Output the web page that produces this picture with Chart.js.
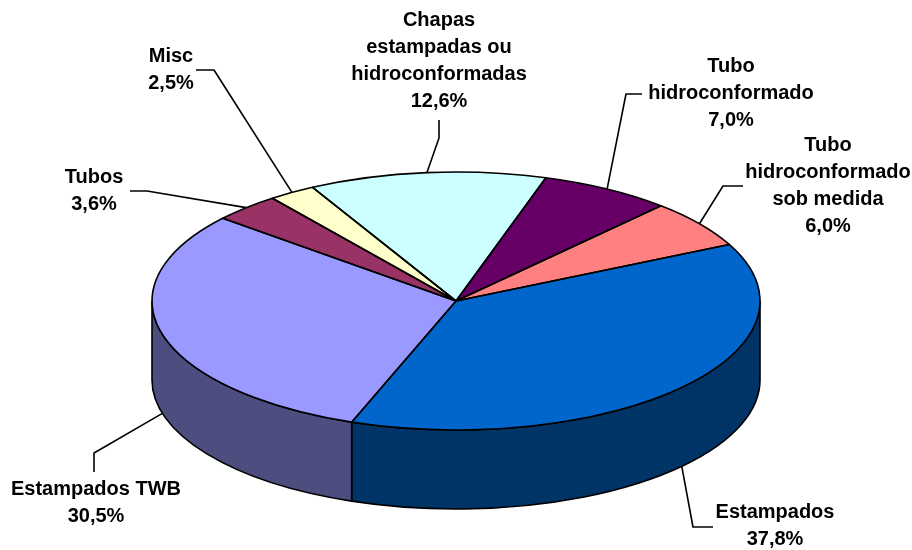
<!DOCTYPE html>
<html>
<head>
<meta charset="utf-8">
<title>Pie 3D</title>
<script src="https://cdn.jsdelivr.net/npm/chart.js@4"></script>
<style>
  html, body { margin: 0; padding: 0; background: #ffffff; }
  #wrap { width: 912px; height: 550px; position: relative; }
</style>
</head>
<body>
<div id="wrap"><canvas id="chart" width="912" height="550"></canvas></div>
<script>
const categories = [
  'Estampados',
  'Estampados TWB',
  'Tubos',
  'Misc',
  'Chapas\nestampadas ou\nhidroconformadas',
  'Tubo\nhidroconformado',
  'Tubo\nhidroconformado\nsob medida'
];
const values = [37.8, 30.5, 3.6, 2.5, 12.6, 7.0, 6.0];
const topColors = ['#0066CC', '#9999FF', '#993366', '#FFFFCC', '#CCFFFF', '#660066', '#FF8080'];
const wallColors = ['#003366', '#4D4D80', '#4D1A33', '#808066', '#668080', '#330033', '#804040'];

// where the pie lands on the page (tilted look)
const pie = { cx: 456, cy: 301, rx: 304, ry: 129, depth: 79 };

// label centre + first line y, and the elbow points of the leader line
const labelLayout = [
  { x: 775, y: 512, leader: [[713, 527], [693, 527]] },
  { x: 96, y: 489, leader: [[94, 472], [94, 453]] },
  { x: 94, y: 177, leader: [[130, 191], [147, 191]] },
  { x: 171, y: 56, leader: [[196, 70], [214, 70]] },
  { x: 439, y: 20, leader: [[439, 120], [439, 138]] },
  { x: 731, y: 66, leader: [[642, 94], [626, 94]] },
  { x: 828, y: 145, leader: [[743, 186], [723, 186]] }
];
const lineGap = 27.2;
const labelFont = 'bold 20px "Liberation Sans", Arial, sans-serif';
const edgeColor = '#000000';

function formatValue(v) {
  return v.toFixed(1).replace('.', ',') + '%';
}

function applyTilt(ctx, arc) {
  ctx.translate(pie.cx, pie.cy);
  ctx.scale(pie.rx / arc.outerRadius, pie.ry / arc.outerRadius);
  ctx.translate(-arc.x, -arc.y);
}

function drawWalls(ctx, arcs) {
  arcs.forEach((arc, i) => {
    const from = Math.max(arc.startAngle, 0);
    const to = Math.min(arc.endAngle, Math.PI);
    if (to <= from) return;
    ctx.beginPath();
    ctx.ellipse(pie.cx, pie.cy, pie.rx, pie.ry, 0, from, to);
    ctx.ellipse(pie.cx, pie.cy + pie.depth, pie.rx, pie.ry, 0, to, from, true);
    ctx.closePath();
    ctx.fillStyle = wallColors[i];
    ctx.fill();
    ctx.stroke();
  });
}

function drawTops(ctx, arcs) {
  arcs.forEach(arc => {
    ctx.save();
    applyTilt(ctx, arc);
    arc.draw(ctx);
    ctx.restore();
  });
  // outlines go after the restore so the pen stays round
  arcs.forEach(arc => {
    ctx.save();
    applyTilt(ctx, arc);
    ctx.beginPath();
    ctx.moveTo(arc.x, arc.y);
    ctx.arc(arc.x, arc.y, arc.outerRadius, arc.startAngle, arc.endAngle);
    ctx.closePath();
    ctx.restore();
    ctx.stroke();
  });
}

function drawLeaders(ctx, arcs) {
  arcs.forEach((arc, i) => {
    const mid = (arc.startAngle + arc.endAngle) / 2;
    const endX = pie.cx + pie.rx * Math.cos(mid);
    let endY = pie.cy + pie.ry * Math.sin(mid);
    if (Math.sin(mid) > 0) endY += pie.depth;
    const pts = labelLayout[i].leader;
    ctx.beginPath();
    ctx.moveTo(pts[0][0], pts[0][1]);
    ctx.lineTo(pts[1][0], pts[1][1]);
    ctx.lineTo(endX, endY);
    ctx.stroke();
  });
}

function drawLabels(ctx) {
  ctx.font = labelFont;
  ctx.fillStyle = '#000000';
  ctx.textAlign = 'center';
  ctx.textBaseline = 'middle';
  categories.forEach((name, i) => {
    const lines = name.split('\n').concat(formatValue(values[i]));
    lines.forEach((line, n) => {
      ctx.fillText(line, labelLayout[i].x, labelLayout[i].y + n * lineGap);
    });
  });
}

const tiltedPie = {
  id: 'tiltedPie',
  beforeDatasetsDraw(chart) {
    const ctx = chart.ctx;
    const arcs = chart.getDatasetMeta(0).data;
    ctx.save();
    ctx.strokeStyle = edgeColor;
    ctx.lineWidth = 1.6;
    ctx.lineJoin = 'round';
    drawWalls(ctx, arcs);
    drawTops(ctx, arcs);
    drawLeaders(ctx, arcs);
    drawLabels(ctx);
    ctx.restore();
    return false; // already drew the slices ourselves
  }
};

new Chart(document.getElementById('chart').getContext('2d'), {
  type: 'pie',
  data: {
    labels: categories,
    datasets: [{
      data: values,
      backgroundColor: topColors,
      borderWidth: 0
    }]
  },
  options: {
    responsive: false,
    animation: false,
    rotation: 64,
    events: [],
    layout: { padding: 0 },
    plugins: {
      legend: { display: false },
      tooltip: { enabled: false }
    }
  },
  plugins: [tiltedPie]
});
</script>
</body>
</html>
